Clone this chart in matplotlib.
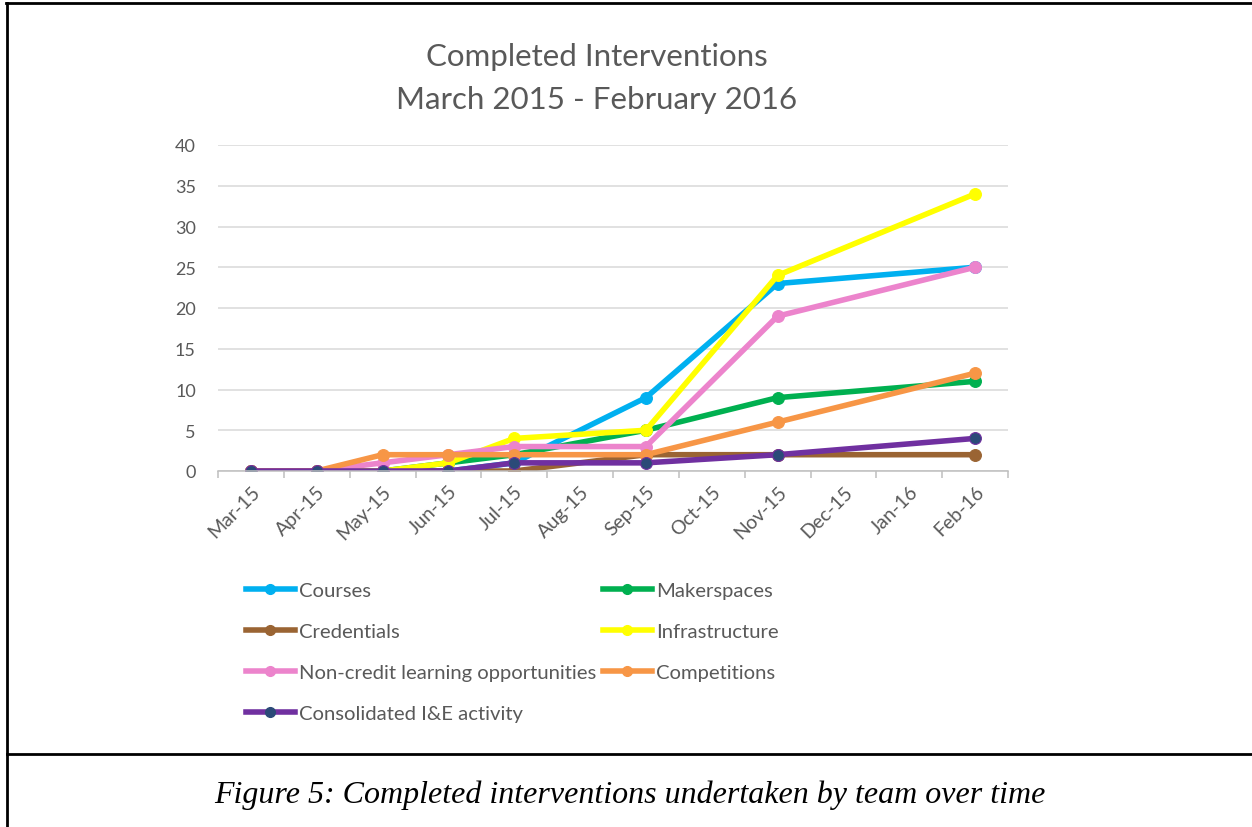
import numpy as np
import matplotlib
matplotlib.use("Agg")
import matplotlib.pyplot as plt
from matplotlib.lines import Line2D

plt.rcParams['font.family'] = ['Lato', 'DejaVu Sans']

# months on the category axis
months = ['Mar-15', 'Apr-15', 'May-15', 'Jun-15', 'Jul-15', 'Aug-15',
          'Sep-15', 'Oct-15', 'Nov-15', 'Dec-15', 'Jan-16', 'Feb-16']

# completed interventions per team (None = no report that month)
courses        = [0, 0, 0, 0, 1, None, 9, None, 23, None, None, 25]
makerspaces    = [0, 0, 0, 1, 2, None, 5, None, 9, None, None, 11]
credentials    = [0, 0, 0, 0, 0, None, 2, None, 2, None, None, 2]
infrastructure = [0, 0, 0, 1, 4, None, 5, None, 24, None, None, 34]
non_credit     = [0, 0, 1, 2, 3, None, 3, None, 19, None, None, 25]
competitions   = [0, 0, 2, 2, 2, None, 2, None, 6, None, None, 12]
consolidated   = [0, 0, 0, 0, 1, None, 1, None, 2, None, None, 4]

series = [
    ('Courses', courses, '#00B0F0', '#00B0F0'),
    ('Makerspaces', makerspaces, '#00B050', '#00B050'),
    ('Credentials', credentials, '#9A6433', '#9A6433'),
    ('Infrastructure', infrastructure, '#FFFF00', '#FFFF00'),
    ('Non-credit learning opportunities', non_credit, '#EC84CC', '#EC84CC'),
    ('Competitions', competitions, '#F79646', '#F79646'),
    ('Consolidated I&E activity', consolidated, '#7030A0', '#2B4A78'),
]

fig = plt.figure(figsize=(12.52, 8.28), dpi=100)
ax = fig.add_axes([218 / 1252, 1 - 472 / 828, 790 / 1252, 326 / 828])

handles = {}
for name, vals, col, mcol in series:
    x = [i for i, v in enumerate(vals) if v is not None]
    y = [v for v in vals if v is not None]
    ln, = ax.plot(x, y, color=col, lw=4, marker='o', ms=8.5,
                  mfc=mcol, mec=col, mew=0.8,
                  solid_capstyle='round', solid_joinstyle='round', label=name)
    handles[name] = ln

ax.set_xlim(-0.5, 11.5)
ax.set_ylim(0, 40)
ax.set_yticks(np.arange(0, 41, 5))
ax.yaxis.grid(True, color='#D9D9D9', lw=1.1)
ax.set_axisbelow(True)
for s in ['top', 'right', 'left']:
    ax.spines[s].set_visible(False)
ax.spines['bottom'].set_color('#BFBFBF')
ax.spines['bottom'].set_linewidth(1.1)

# tick marks sit between categories, labels at category centres
ax.set_xticks(np.arange(-0.5, 12, 1))
ax.set_xticklabels([])
ax.tick_params(axis='x', which='major', length=5, color='#BFBFBF', width=1.1)
ax.set_xticks(np.arange(12), minor=True)
ax.set_xticklabels(months, minor=True, rotation=45, ha='right',
                   rotation_mode='anchor', color='#595959', fontsize=14)
ax.tick_params(axis='x', which='minor', length=0, pad=8)
ax.tick_params(axis='y', length=0, pad=16, labelcolor='#595959', labelsize=13)

fig.text(597 / 1252, 1 - 57 / 828, 'Completed Interventions', ha='center',
         va='center', color='#595959', fontsize=22.5)
fig.text(597 / 1252, 1 - 100 / 828, 'March 2015 - February 2016', ha='center',
         va='center', color='#595959', fontsize=22.5)

order = ['Courses', 'Credentials', 'Non-credit learning opportunities',
         'Consolidated I&E activity', 'Makerspaces', 'Infrastructure',
         'Competitions']
leg_handles = []
for name in order:
    h = handles[name]
    leg_handles.append(Line2D([], [], color=h.get_color(), lw=4, marker='o',
                              ms=7, mfc=h.get_markerfacecolor(),
                              mec=h.get_markerfacecolor()))
fig.legend(leg_handles, order, ncol=2, loc='upper left',
           bbox_to_anchor=(246 / 1252, 1 - 583 / 828), frameon=False,
           fontsize=14.6, labelcolor='#595959', handlelength=2.4,
           handletextpad=0.2, columnspacing=0.35, labelspacing=1.17,
           borderpad=0, borderaxespad=0)

fig.text(630 / 1252, 1 - 795 / 828,
         'Figure 5: Completed interventions undertaken by team over time',
         ha='center', va='center', family='Liberation Serif', style='italic',
         fontsize=23, color='black')

# page frame around the figure and its caption
W, H = 1252, 828
for xs, ys in [([7, 7], [4, H]), ([6, W], [4, 4]), ([7, W], [755, 755])]:
    fig.add_artist(Line2D([x / W for x in xs], [1 - y / H for y in ys],
                          transform=fig.transFigure, color='black', lw=2))

fig.savefig('out.png', dpi=100)
